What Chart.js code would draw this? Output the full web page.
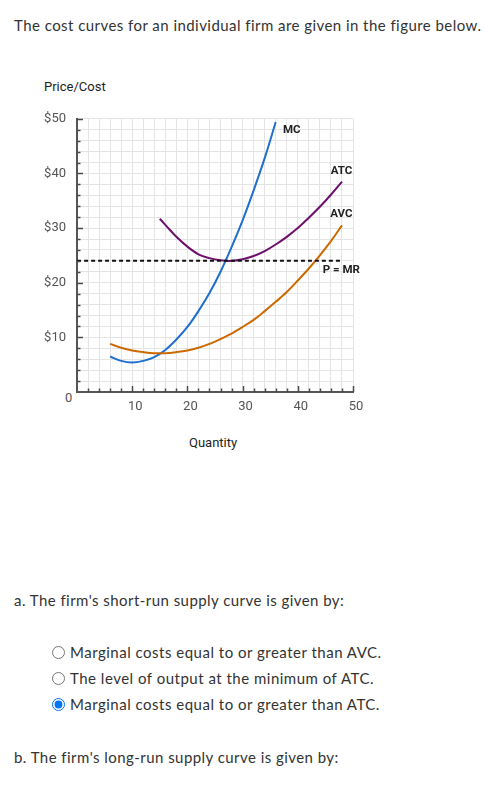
<!DOCTYPE html>
<html>
<head>
<meta charset="utf-8">
<script src="https://cdn.jsdelivr.net/npm/chart.js@4"></script>
<style>
  body { margin: 0; width: 489px; height: 788px; background: #fff; position: relative; font-family: "Lato", sans-serif; color: #333; font-variant-ligatures: none; }
  .txt { position: absolute; white-space: nowrap; font-size: 15px; line-height: 18px; letter-spacing: 0.45px; }
  .lbl { position: absolute; white-space: nowrap; font-family: "Roboto", sans-serif; font-size: 13px; color: #222; }
  #wrap { position: absolute; left: 0; top: 100px; width: 380px; height: 320px; }
  .opt { position: absolute; left: 52px; font-size: 15px; line-height: 18px; white-space: nowrap; letter-spacing: 0.5px; }
  .opt input { margin: 0 5px 0 0; width: 13px; height: 13px; vertical-align: -1px; }
</style>
</head>
<body>
<div class="txt" style="left:14px; top:16px;">The cost curves for an individual firm are given in the figure below.</div>
<div class="lbl" style="left:44px; top:79px;">Price/Cost</div>
<div class="lbl" style="left:65px; top:390px; color:#555;">0</div>
<div class="lbl" style="left:189px; top:435px;">Quantity</div>
<div id="wrap"><canvas id="costChart" width="380" height="320"></canvas></div>
<div class="txt" style="left:14px; top:591px;">a. The firm's short-run supply curve is given by:</div>
<div class="opt" style="top:643px;"><input type="radio" name="q1">Marginal costs equal to or greater than AVC.</div>
<div class="opt" style="top:669px;"><input type="radio" name="q1">The level of output at the minimum of ATC.</div>
<div class="opt" style="top:695px;"><input type="radio" name="q1" checked>Marginal costs equal to or greater than ATC.</div>
<div class="txt" style="left:14px; top:748px;">b. The firm's long-run supply curve is given by:</div>
<script>
// values
const mcQty = [6, 8, 10, 12, 14, 16, 18, 20, 22, 24, 26, 28, 30, 32, 34, 36];
const mcCost = [6.5, 5.7, 5.4, 5.7, 6.4, 7.7, 9.6, 11.9, 14.8, 18.1, 22.0, 26.5, 31.4, 36.9, 42.8, 49.4];

const avcQty = [6, 8, 10, 12, 14, 16, 18, 20, 22, 24, 26, 28, 30, 32, 34, 36, 38, 40, 42, 44, 46, 48];
const avcCost = [8.8, 8.1, 7.6, 7.3, 7.1, 7.1, 7.3, 7.6, 8.1, 8.8, 9.7, 10.7, 11.9, 13.2, 14.8, 16.5, 18.3, 20.4, 22.6, 25.0, 27.6, 30.5];

const atcQty = [15, 16, 18, 20, 22, 24, 26, 28, 30, 32, 34, 36, 38, 40, 42, 44, 46, 48];
const atcCost = [31.7, 30.6, 28.4, 26.6, 25.2, 24.5, 24.1, 24.0, 24.3, 24.9, 25.8, 27.0, 28.4, 30.0, 31.9, 33.9, 36.1, 38.5];

const priceQty = [0, 48];
const priceLevel = [24, 24];

const xTickLabels = [10, 20, 30, 40, 50];
const yTickLabels = ['$10', '$20', '$30', '$40', '$50'];

// curve name tags, placed in data units
const curveTags = [
    { text: 'MC', x: 37.3, y: 47.9, align: 'left' },
    { text: 'ATC', x: 47.9, y: 40.5, align: 'center' },
    { text: 'AVC', x: 47.9, y: 32.5, align: 'center' },
    { text: 'P = MR', x: 47.9, y: 22.3, align: 'center' }
];

function toPoints(xs, ys) {
    return xs.map((x, i) => ({ x: x, y: ys[i] }));
}

// ticks point inward in the original, so draw them by hand
const innerTicks = {
    id: 'innerTicks',
    afterDraw(chart) {
        const ctx = chart.ctx;
        const xs = chart.scales.x, ys = chart.scales.y;
        const area = chart.chartArea;
        ctx.save();
        ctx.strokeStyle = '#4a4a4a';
        ctx.lineWidth = 1.5;
        for (let v = 2; v <= 50; v += 2) {
            const len = v % 10 === 0 ? 6 : 3.5;
            const px = Math.round(xs.getPixelForValue(v)) + 0.5;
            ctx.beginPath();
            ctx.moveTo(px, area.bottom);
            ctx.lineTo(px, area.bottom - len);
            ctx.stroke();
            const py = Math.round(ys.getPixelForValue(v)) + 0.5;
            ctx.beginPath();
            ctx.moveTo(area.left, py);
            ctx.lineTo(area.left + len, py);
            ctx.stroke();
        }
        ctx.font = 'bold 11.5px Roboto';
        ctx.fillStyle = '#222';
        ctx.textBaseline = 'middle';
        curveTags.forEach(t => {
            ctx.textAlign = t.align;
            ctx.fillText(t.text, xs.getPixelForValue(t.x), ys.getPixelForValue(t.y));
        });
        ctx.restore();
    }
};

const lineStyle = { borderWidth: 2, pointRadius: 0, fill: false, tension: 0.35 };

new Chart(document.getElementById('costChart'), {
    type: 'line',
    data: {
        datasets: [
            Object.assign({ label: 'P = MR', data: toPoints(priceQty, priceLevel), borderColor: '#111', borderDash: [4, 3] }, lineStyle),
            Object.assign({ label: 'AVC', data: toPoints(avcQty, avcCost), borderColor: '#cc6a00' }, lineStyle),
            Object.assign({ label: 'ATC', data: toPoints(atcQty, atcCost), borderColor: '#6e0f6e' }, lineStyle),
            Object.assign({ label: 'MC', data: toPoints(mcQty, mcCost), borderColor: '#1f6fce' }, lineStyle)
        ]
    },
    options: {
        responsive: false,
        animation: false,
        layout: { padding: { top: 17, right: 27, left: 0, bottom: 0 } },
        plugins: { legend: { display: false }, tooltip: { enabled: false } },
        scales: {
            x: {
                type: 'linear',
                min: 0,
                max: 50,
                afterFit: s => { s.height = 28; },
                grid: { color: '#e4e4e4', lineWidth: 1, drawTicks: false },
                border: { color: '#555', width: 2 },
                ticks: {
                    stepSize: 2,
                    autoSkip: false,
                    maxRotation: 0,
                    padding: 7,
                    labelOffset: 3,
                    color: '#555',
                    font: { family: 'Roboto', size: 13 },
                    callback: v => xTickLabels.includes(v) ? String(v) : ''
                }
            },
            y: {
                min: 0,
                max: 50,
                afterFit: s => { s.width = 77; },
                grid: { color: '#e4e4e4', lineWidth: 1, drawTicks: false },
                border: { color: '#555', width: 2 },
                ticks: {
                    stepSize: 2,
                    autoSkip: false,
                    padding: 11,
                    color: '#555',
                    font: { family: 'Roboto', size: 13 },
                    callback: v => (v > 0 && v % 10 === 0) ? yTickLabels[v / 10 - 1] : ''
                }
            }
        }
    },
    plugins: [innerTicks]
});
</script>
</body>
</html>
